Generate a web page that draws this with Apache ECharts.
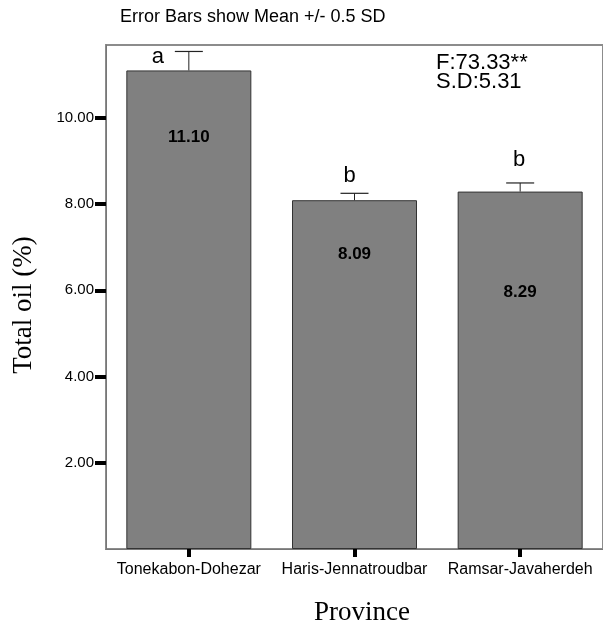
<!DOCTYPE html>
<html><head><meta charset="utf-8">
<script src="https://cdn.jsdelivr.net/npm/echarts@6/dist/echarts.min.js"></script>
<style>html,body{margin:0;padding:0;background:#fff}#c{width:603px;height:625px}</style>
</head><body><div id="c"></div>
<script>
// ---- data ----
const categories = ['Tonekabon-Dohezar', 'Haris-Jennatroudbar', 'Ramsar-Javaherdeh'];
const means = [11.10, 8.09, 8.29];
const halfSD = [0.44, 0.16, 0.20];
const groupLetters = ['a', 'b', 'b'];
const yTickValues = [2, 4, 6, 8, 10];
const titleText = 'Error Bars show Mean +/- 0.5 SD';
const statLines = ['F:73.33**', 'S.D:5.31'];
const yName = 'Total oil (%)';
const xName = 'Province';

// ---- styling (pixels) ----
const valueLabelDrop = [67, 54, 101];
const letterOffset = [[-31, 5], [-5, -17], [-1, -23]];
const SANS = '"Liberation Sans", Arial, sans-serif';
const SERIF = '"Liberation Serif", "Times New Roman", serif';

const chart = echarts.init(document.getElementById('c'), null, { renderer: 'canvas' });

const option = {
  animation: false,
  backgroundColor: '#fff',
  grid: { left: 106, top: 45, right: -9, bottom: 76, show: true, borderColor: '#8c8c8c', borderWidth: 2, containLabel: false },
  xAxis: {
    type: 'category',
    data: categories,
    axisLine: { show: true, lineStyle: { color: '#777', width: 1 } },
    axisTick: { show: true, alignWithLabel: true, length: 8, lineStyle: { color: '#000', width: 4 } },
    axisLabel: { interval: 0, hideOverlap: false, fontFamily: SANS, fontSize: 16, color: '#000', margin: 13 },
    splitLine: { show: false }
  },
  yAxis: {
    type: 'value',
    min: 0,
    max: 11.69,
    axisLine: { show: true, lineStyle: { color: '#777', width: 1 } },
    axisTick: { show: true, customValues: yTickValues, length: 11, lineStyle: { color: '#000', width: 4 } },
    axisLabel: { customValues: yTickValues, fontFamily: SANS, fontSize: 15, color: '#000', margin: 12,
      formatter: v => Number(v).toFixed(2) },
    splitLine: { show: false }
  },
  graphic: [
    { type: 'text', left: 120, top: 8, style: { text: titleText, font: '18px ' + SANS, fill: '#000' } },
    { type: 'text', left: 436, top: 52, style: { text: statLines.join('\n'), font: '22px ' + SANS, fill: '#000', lineHeight: 19 } },
    { type: 'text', x: 24, y: 305, rotation: Math.PI / 2,
      style: { text: yName, font: '27px ' + SERIF, fill: '#000', align: 'center', verticalAlign: 'middle' } },
    { type: 'text', x: 362, y: 613,
      style: { text: xName, font: '27px ' + SERIF, fill: '#000', align: 'center', verticalAlign: 'middle' } }
  ],
  series: [
    {
      type: 'bar',
      barWidth: 125,
      data: means.map((m, i) => ({
        value: m,
        label: { show: true, position: ['50%', valueLabelDrop[i]], align: 'center', verticalAlign: 'middle',
          formatter: m.toFixed(2), fontFamily: SANS, fontWeight: 'bold', fontSize: 17, color: '#000' }
      })),
      itemStyle: { color: '#808080', borderColor: '#333', borderWidth: 1 },
      z: 2
    },
    {
      type: 'custom',
      z: 5,
      data: means.map((m, i) => [i, m, halfSD[i]]),
      renderItem: function (params, api) {
        const i = api.value(0), m = api.value(1), e = api.value(2);
        const base = api.coord([i, m]);
        const top = api.coord([i, m + e]);
        const cap = 14;
        const off = letterOffset[params.dataIndex];
        return {
          type: 'group',
          children: [
            { type: 'line', shape: { x1: top[0], y1: base[1], x2: top[0], y2: top[1] }, style: { stroke: '#222', lineWidth: 1 } },
            { type: 'line', shape: { x1: top[0] - cap, y1: top[1], x2: top[0] + cap, y2: top[1] }, style: { stroke: '#222', lineWidth: 1.2 } },
            { type: 'text', x: top[0] + off[0], y: top[1] + off[1],
              style: { text: groupLetters[params.dataIndex], font: '22px ' + SANS, fill: '#000', align: 'center', verticalAlign: 'middle' } }
          ]
        };
      }
    }
  ]
};
chart.setOption(option);
</script>
</body></html>
